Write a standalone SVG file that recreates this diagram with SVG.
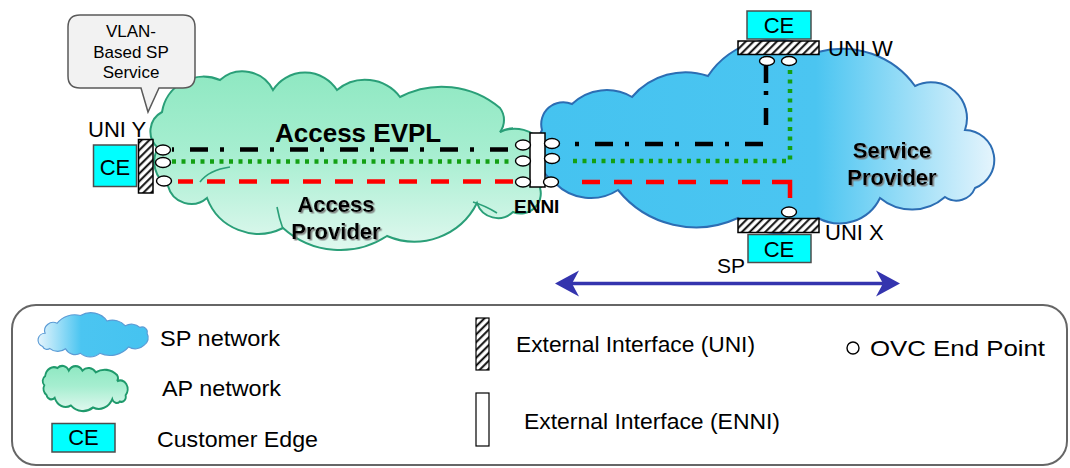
<svg xmlns="http://www.w3.org/2000/svg" xmlns:xlink="http://www.w3.org/1999/xlink" width="1070" height="468" viewBox="0 0 1070 468">
  <defs>
    <style>
      text { font-family: "Liberation Sans", Arial, sans-serif; fill: #000; }
      .lbl { font-size: 22px; }
      .enni-lbl { font-size: 19px; font-weight: bold; }
      .title { font-size: 26px; font-weight: bold; }
      .net-name { font-size: 22px; font-weight: bold; text-anchor: middle; filter: url(#txtShadow); }
      .callout-txt { font-size: 17px; text-anchor: middle; }
      .legend-txt { font-size: 22px; }
      .ce-box { fill: #00ffff; stroke: #4d4d4d; stroke-width: 1.5; }
      .ce-txt { font-size: 22px; text-anchor: middle; }
      .hatch { fill: url(#hatchPat); stroke: #000; stroke-width: 1.5; }
      .enni-bar { fill: #fff; stroke: #000; stroke-width: 1.5; }
      .ovc { fill: #fff; stroke: #000; stroke-width: 1.4; }
      .ap { fill: url(#apGrad); stroke: #2a9f78; stroke-width: 2; }
      .ap-inner { fill: none; stroke: #2a9f78; stroke-width: 1.6; }
      .sp { fill: url(#spGrad); stroke: #2c6db3; stroke-width: 2; }
      .evc-black { fill: none; stroke: #000; stroke-width: 4.5; stroke-dasharray: 18 12 4 16; }
      .evc-green { fill: none; stroke: #14a014; stroke-width: 4.5; stroke-dasharray: 4 5.5; }
      .evc-red { fill: none; stroke: #ff0000; stroke-width: 4.5; stroke-dasharray: 18 14; }
      .span-arrow { fill: none; stroke: #3434ae; stroke-width: 3.5; marker-start: url(#arrowHead); marker-end: url(#arrowHead); }
    </style>

    <pattern id="hatchPat" patternUnits="userSpaceOnUse" width="5.5" height="5.5" patternTransform="rotate(45)">
      <rect width="5.5" height="5.5" fill="#fff"/>
      <line x1="1.2" y1="0" x2="1.2" y2="5.5" stroke="#000" stroke-width="1.9"/>
    </pattern>

    <linearGradient id="apGrad" gradientUnits="userSpaceOnUse" x1="0" y1="72" x2="0" y2="250">
      <stop offset="0" stop-color="#8fe8c2"/>
      <stop offset="0.45" stop-color="#a6eed0"/>
      <stop offset="1" stop-color="#e0f8ef"/>
    </linearGradient>

    <linearGradient id="spGrad" gradientUnits="userSpaceOnUse" x1="540" y1="0" x2="1000" y2="0">
      <stop offset="0" stop-color="#45c3f0"/>
      <stop offset="0.6" stop-color="#4bc5f1"/>
      <stop offset="1" stop-color="#eaf6fd"/>
    </linearGradient>

    <filter id="txtShadow" x="-10%" y="-30%" width="130%" height="170%">
      <feDropShadow dx="1.5" dy="1.5" stdDeviation="0.6" flood-color="#7a7a7a" flood-opacity="0.9"/>
    </filter>

    <marker id="arrowHead" markerUnits="userSpaceOnUse" viewBox="0 0 24 28" markerWidth="24" markerHeight="28" refX="19" refY="14" orient="auto-start-reverse">
      <path d="M0,1 L24,14 L0,27 L7,14 Z" fill="#3434ae"/>
    </marker>

    <!-- cloud outlines, reused at small scale in the legend -->
    <path id="apCloudShape" d="M162,112 A42,42 0 0 1 220,80 A34,34 0 0 1 273,90 A38,38 0 0 1 337,90 A44,44 0 0 1 400,97 A90,90 0 0 1 500,108 A20,20 0 0 1 500,132 A35,35 0 0 1 540,188 A20,20 0 0 1 513,212 A22,22 0 0 1 477,203 A70,70 0 0 1 387,236 A85,85 0 0 1 283,228 A55,55 0 0 1 207,198 A24,24 0 0 1 168,186 A28,28 0 0 1 158,148 A22,22 0 0 1 162,112 Z"/>
    <path id="spCloudShape" d="M542,130 A22,22 0 0 1 572,104 A50,50 0 0 1 632,97 A70,70 0 0 1 708,76 A80,80 0 0 1 818,52 A90,90 0 0 1 915,86 A36,36 0 0 1 965,130 A30,30 0 0 1 975,188 A20,20 0 0 1 945,197 A50,50 0 0 1 880,198 A45,45 0 0 1 818,218 A60,60 0 0 1 738,218 A100,100 0 0 1 618,190 A50,50 0 0 1 555,183 A40,40 0 0 1 542,130 Z"/>
  </defs>

  <rect width="1070" height="468" fill="#fff"/>

  <!-- access provider network -->
  <g id="access-provider">
    <use xlink:href="#apCloudShape" href="#apCloudShape" class="ap"/>
    <path class="ap-inner" d="M200,182 Q209,170 230,167"/>
    <path class="ap-inner" d="M283,229 Q279,218 277,207"/>
    <path class="ap-inner" d="M473,202 Q486,206 497,213"/>
    <path class="ap-inner" d="M500,132 Q506,128 513,128"/>
    <text class="title" x="275" y="142">Access EVPL</text>
    <text class="net-name" x="336" y="212">Access</text>
    <text class="net-name" x="336" y="239">Provider</text>
  </g>

  <!-- service provider network -->
  <g id="service-provider">
    <use xlink:href="#spCloudShape" href="#spCloudShape" class="sp"/>
    <text class="net-name" x="892" y="158">Service</text>
    <text class="net-name" x="892" y="185">Provider</text>
  </g>

  <!-- service type callout -->
  <g id="callout">
    <path d="M80,15 H183 Q195,15 195,27 V76 Q195,88 183,88 H159 L148,112 L141,88 H80 Q68,88 68,76 V27 Q68,15 80,15 Z" fill="#f2f2f2" stroke="#5a5a5a" stroke-width="1.5"/>
    <text class="callout-txt" x="131" y="37">VLAN-</text>
    <text class="callout-txt" x="131" y="58">Based SP</text>
    <text class="callout-txt" x="131" y="78">Service</text>
  </g>

  <!-- OVCs and the SP span -->
  <g id="connectors">
    <path class="evc-black" d="M172,149.5 H513" stroke-dashoffset="32"/>
    <path class="evc-green" d="M172,161.5 H514"/>
    <path class="evc-red" d="M178,181.5 H514" stroke-dashoffset="3"/>
    <path class="evc-black" d="M575,144 H766" stroke-dashoffset="30"/>
    <path class="evc-black" d="M766,66 V126" style="stroke-dasharray:17 8 4 13"/>
    <path class="evc-green" d="M573,161 H790 V67"/>
    <path class="evc-red" d="M582,182 H762"/>
    <path d="M772,182 H790 V198" fill="none" stroke="#ff0000" stroke-width="4.5"/>
    <path class="span-arrow" d="M560,283.5 H895"/>
  </g>

  <!-- UNI Y with its CE -->
  <g id="uni-y">
    <rect class="ce-box" x="93.5" y="145" width="43" height="41.5"/>
    <text class="ce-txt" x="115" y="175">CE</text>
    <rect class="hatch" x="138.5" y="139.5" width="14.5" height="53.5"/>
    <ellipse class="ovc" cx="163" cy="150" rx="7.5" ry="5"/>
    <ellipse class="ovc" cx="163" cy="162.5" rx="7.5" ry="5"/>
    <ellipse class="ovc" cx="164" cy="181" rx="7.5" ry="5"/>
    <text class="lbl" x="88" y="137">UNI Y</text>
  </g>

  <!-- ENNI between the two operators -->
  <g id="enni">
    <rect class="enni-bar" x="530" y="133" width="15" height="54"/>
    <ellipse class="ovc" cx="523" cy="145" rx="7.5" ry="5"/>
    <ellipse class="ovc" cx="523" cy="161" rx="7.5" ry="5"/>
    <ellipse class="ovc" cx="523" cy="182" rx="7.5" ry="5"/>
    <ellipse class="ovc" cx="552" cy="143.5" rx="7.5" ry="5"/>
    <ellipse class="ovc" cx="552" cy="158.5" rx="7.5" ry="5"/>
    <ellipse class="ovc" cx="551" cy="182" rx="7.5" ry="5"/>
    <text class="enni-lbl" x="514" y="213">ENNI</text>
  </g>

  <!-- UNI W with its CE -->
  <g id="uni-w">
    <rect class="ce-box" x="747" y="11" width="64" height="28"/>
    <text class="ce-txt" x="779" y="33">CE</text>
    <rect class="hatch" x="738" y="41" width="81" height="13.5"/>
    <ellipse class="ovc" cx="767" cy="61" rx="7.5" ry="4.5"/>
    <ellipse class="ovc" cx="789" cy="61" rx="7.5" ry="4.5"/>
    <text class="lbl" x="828" y="56">UNI W</text>
  </g>

  <!-- UNI X with its CE -->
  <g id="uni-x">
    <ellipse class="ovc" cx="789" cy="212" rx="7.5" ry="5"/>
    <rect class="hatch" x="738" y="218.5" width="81" height="14"/>
    <rect class="ce-box" x="748" y="234.5" width="63" height="28"/>
    <text class="ce-txt" x="779" y="257">CE</text>
    <text class="lbl" x="825" y="240">UNI X</text>
    <text class="lbl" x="717" y="273" style="font-size:21px">SP</text>
  </g>

  <!-- legend -->
  <g id="legend">
    <rect x="12" y="305" width="1055" height="160" rx="24" ry="24" fill="#fff" stroke="#666" stroke-width="2"/>
    <use xlink:href="#spCloudShape" href="#spCloudShape" class="sp" transform="translate(148,313) scale(-0.241,0.228) translate(-538,-41)" style="stroke:#5b9bd5;stroke-width:5"/>
    <text class="legend-txt" x="160" y="346" textLength="120" lengthAdjust="spacingAndGlyphs">SP network</text>
    <use xlink:href="#apCloudShape" href="#apCloudShape" class="ap" transform="translate(43,366) scale(0.213,0.253) translate(-152,-72)" style="stroke:#1f9a6c;stroke-width:8.5"/>
    <text class="legend-txt" x="162" y="396" textLength="119" lengthAdjust="spacingAndGlyphs">AP network</text>
    <rect class="ce-box" x="52" y="423.5" width="63" height="28.5"/>
    <text class="ce-txt" x="83.5" y="445">CE</text>
    <text class="legend-txt" x="157" y="447" textLength="161" lengthAdjust="spacingAndGlyphs">Customer Edge</text>
    <rect class="hatch" x="476" y="318" width="13" height="52" style="stroke-width:1.2"/>
    <text class="legend-txt" x="516" y="352" textLength="239" lengthAdjust="spacingAndGlyphs">External Interface (UNI)</text>
    <rect class="enni-bar" x="476" y="393" width="13" height="53" style="stroke-width:1.2"/>
    <text class="legend-txt" x="524" y="429" textLength="256" lengthAdjust="spacingAndGlyphs">External Interface (ENNI)</text>
    <circle class="ovc" cx="853" cy="348" r="6"/>
    <text class="legend-txt" x="870" y="356" textLength="175" lengthAdjust="spacingAndGlyphs">OVC End Point</text>
  </g>
</svg>
